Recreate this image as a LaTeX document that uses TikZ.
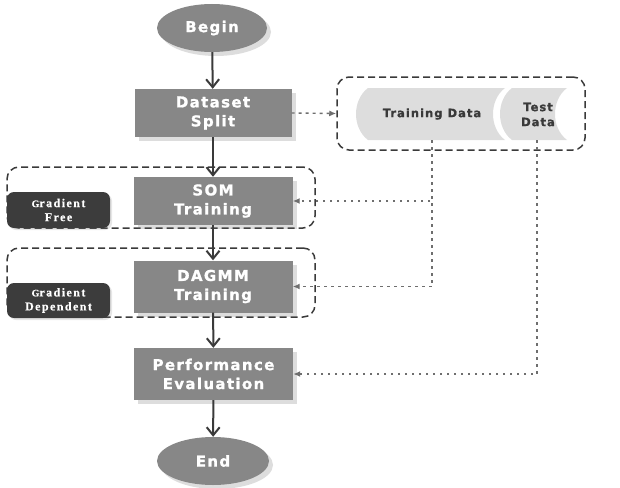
\documentclass[tikz,border=0pt]{standalone}
\usepackage{fontspec}
\setmainfont{Liberation Serif}
\newfontfamily\boxfont[LetterSpace=9,BoldFeatures={FakeBold=1.2}]{DejaVu Sans}
\newfontfamily\gradfont[LetterSpace=12,BoldFeatures={FakeBold=0.6}]{Liberation Serif}
\usetikzlibrary{shapes.geometric,arrows.meta,shadows}
\definecolor{boxgray}{HTML}{878787}
\definecolor{darklab}{HTML}{3C3C3C}
\definecolor{linegray}{HTML}{3A3A3A}
\definecolor{dotgray}{HTML}{6E6E6E}
\definecolor{datafill}{HTML}{DDDDDD}
\definecolor{datatext}{HTML}{3A3A3A}
\begin{document}
\begin{tikzpicture}[x=1pt,y=-1pt,
  shad/.style={drop shadow={shadow xshift=4pt,shadow yshift=-4pt,opacity=0.22,fill=black!60}},
  procbox/.style={rectangle,fill=boxgray,draw=none,minimum width=159pt,minimum height=50pt,
    text=white,align=center,font=\boxfont\bfseries\fontsize{15}{19}\selectfont,shad},
  termnode/.style={ellipse,fill=boxgray,draw=none,minimum width=110pt,minimum height=48pt,
    text=white,font=\boxfont\bfseries\fontsize{15}{19}\selectfont,shad},
  grpbox/.style={rectangle,rounded corners=12pt,draw=linegray,line width=1.5pt,
    dash pattern=on 7pt off 4pt,fill=none},
  gradlab/.style={rectangle,rounded corners=7pt,fill=darklab,draw=none,text=white,
    minimum width=103pt,minimum height=36pt,align=center,inner sep=1pt,
    font=\gradfont\bfseries\fontsize{12}{14}\selectfont,
    drop shadow={shadow xshift=2pt,shadow yshift=-2pt,opacity=0.2}},
  dtext/.style={text=datatext,align=center,font=\boxfont\bfseries\fontsize{11.5}{15}\selectfont},
  mainarrow/.style={draw=linegray,line width=2pt,-{Straight Barb[length=8pt,width=13pt]}},
  dotconn/.style={draw=dotgray,line width=1.4pt,dash pattern=on 2.5pt off 4.5pt,
    -{Latex[length=7pt,width=6pt]}},
  dashconn/.style={draw=dotgray,line width=1.4pt,dash pattern=on 3pt off 4pt,
    -{Latex[length=7pt,width=6pt]}}
]
\useasboundingbox (0,0) rectangle (620,487);

% groups
\node[grpbox,minimum width=308pt,minimum height=61pt] (somgrp) at (161,197.5) {};
\node[grpbox,minimum width=308pt,minimum height=69pt] (dagmmgrp) at (161,282.5) {};
\node[grpbox,minimum width=248pt,minimum height=73pt] (datagrp) at (461,113.5) {};

% labels
\node[gradlab] (gfree) at (58.5,210) {{\fontsize{10}{10}\selectfont G}radient\\Free};
\node[gradlab,minimum height=35pt] (gdep) at (58.5,300.5) {{\fontsize{10}{10}\selectfont G}radient\\Dependent};

% data pipe segments
\fill[datafill] (368,88) .. controls (352,100) and (352,128) .. (368,140) -- (505,140)
  .. controls (489,128) and (489,100) .. (505,88) -- cycle;
\fill[datafill] (512,88) .. controls (496,100) and (496,128) .. (512,140) -- (567,140)
  .. controls (551,128) and (551,100) .. (567,88) -- cycle;
\node[dtext] (train) at (432,114) {Training Data};
\node[dtext] (test) at (538,114.5) {Test\\Data};
\coordinate (trb) at (432,140);
\coordinate (teb) at (537,140);

% main flow
\node[termnode] (begin) at (212,28) {Begin};
\node[procbox,minimum width=157pt,minimum height=48pt] (split) at (213,113) {Dataset\\Split};
\node[procbox,minimum height=48pt] (som) at (213,201) {SOM\\Training};
\node[procbox,minimum height=52pt] (dagmm) at (213,286.5) {DAGMM\\Training};
\node[procbox,minimum height=52pt] (perf) at (213.5,374) {Performance\\Evaluation};
\node[termnode,minimum width=112pt] (end) at (213,461) {End};

\draw[mainarrow] (begin) -- (split);
\draw[mainarrow] (split) -- (som);
\draw[mainarrow] (som) -- (dagmm);
\draw[mainarrow] (dagmm) -- (perf);
\draw[mainarrow] (perf) -- (end);

% data connectors
\draw[dashconn] (split.east) -- (datagrp.west);
\draw[dotconn] (trb) |- (som.east);
\draw[dotconn] (trb) |- (dagmm.east);
\draw[dotconn] (teb) |- (perf.east);
\end{tikzpicture}
\end{document}
